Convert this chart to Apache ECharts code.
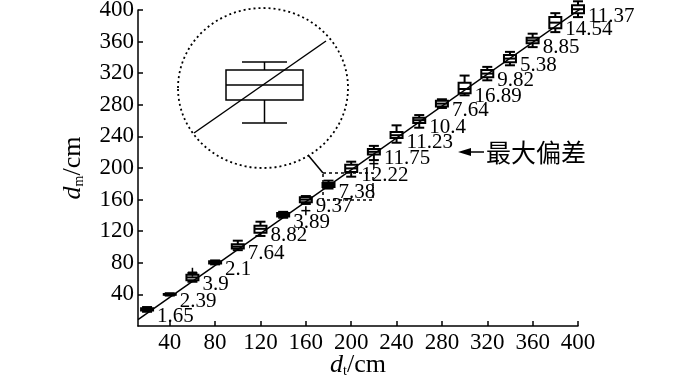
<!DOCTYPE html>
<html>
<head>
<meta charset="utf-8">
<script src="https://cdn.jsdelivr.net/npm/echarts@6/dist/echarts.min.js"></script>
<style>
html, body { margin: 0; background: #fff; }
#chart { width: 700px; height: 380px; }
</style>
</head>
<body>
<div id="chart"></div>
<script>
// measured distance d_t (x) and box statistics of d_m (y)
var dt      = [20, 40, 60, 80, 100, 120, 140, 160, 180, 200, 220, 240, 260, 280, 300, 320, 340, 360, 380, 400];
var boxLow  = [18, 38.5, 56, 78, 96, 114, 137, 154.5, 174, 189, 210, 232, 251, 276, 292, 311, 330, 353, 372, 391];
var boxQ1   = [19.5, 39.5, 58, 79, 98, 118, 138.5, 156.5, 176, 195, 217, 238, 257, 278, 294.5, 315, 334, 358, 377, 396];
var boxMed  = [21, 40, 61.5, 80.5, 100.5, 123, 140.5, 160, 178.5, 199.5, 220.5, 241.5, 260.5, 281.5, 300, 319.5, 338.5, 361.5, 384, 401];
var boxQ3   = [22.5, 40.5, 65, 82, 103.5, 127, 143, 163, 181, 204, 224, 245.5, 263.5, 285, 308, 324, 343, 365, 391, 406];
var boxHigh = [24, 41.5, 67, 83, 108, 132, 144.5, 164.5, 184, 208, 228, 254, 267, 287, 317, 328, 347, 370, 396, 411];
var maxDev  = [1.65, 2.39, 3.9, 2.1, 7.64, 8.82, 3.89, 9.37, 7.38, 12.22, 11.75, 11.23, 10.4, 7.64, 16.89, 9.82, 5.38, 8.85, 14.54, 11.37];

// outliers (+)
var outX = [60, 160, 220];
var outY = [68, 146, 205.5];

// reference line
var fitX = [12, 410.5];
var fitY = [8, 410];

var tickVals = [40, 80, 120, 160, 200, 240, 280, 320, 360, 400];

var boxData = dt.map(function (x, i) {
    return [x, boxLow[i], boxQ1[i], boxMed[i], boxQ3[i], boxHigh[i], maxDev[i]];
});
var outData = outX.map(function (x, i) { return [x, outY[i]]; });
var fitData = fitX.map(function (x, i) { return [x, fitY[i]]; });

var serif = '"Liberation Serif", "DejaVu Serif", serif';
var lineSt = { stroke: '#000', lineWidth: 1.5, fill: 'none' };
var boxSt = { stroke: '#000', lineWidth: 2, fill: 'none' };

function renderBox(params, api) {
    var x = api.value(0);
    var pLo = api.coord([x, api.value(1)]);
    var pQ1 = api.coord([x, api.value(2)]);
    var pMed = api.coord([x, api.value(3)]);
    var pQ3 = api.coord([x, api.value(4)]);
    var pHi = api.coord([x, api.value(5)]);
    var cx = pMed[0], bw = 12, cw = 10;
    return {
        type: 'group',
        children: [
            { type: 'line', shape: { x1: cx, y1: pHi[1], x2: cx, y2: pQ3[1] }, style: boxSt },
            { type: 'line', shape: { x1: cx, y1: pQ1[1], x2: cx, y2: pLo[1] }, style: boxSt },
            { type: 'line', shape: { x1: cx - cw / 2, y1: pHi[1], x2: cx + cw / 2, y2: pHi[1] }, style: boxSt },
            { type: 'line', shape: { x1: cx - cw / 2, y1: pLo[1], x2: cx + cw / 2, y2: pLo[1] }, style: boxSt },
            { type: 'rect', shape: { x: cx - bw / 2, y: pQ3[1], width: bw, height: pQ1[1] - pQ3[1] }, style: boxSt },
            { type: 'line', shape: { x1: cx - bw / 2, y1: pMed[1], x2: cx + bw / 2, y2: pMed[1] }, style: boxSt },
            {
                type: 'text', x: cx + 10, y: pMed[1] + 7,
                style: { text: String(api.value(6)), font: '21px ' + serif, fill: '#000', align: 'left', verticalAlign: 'middle' }
            }
        ]
    };
}

function renderPlus(params, api) {
    var p = api.coord([api.value(0), api.value(1)]);
    var h = 4.5;
    return {
        type: 'group',
        children: [
            { type: 'line', shape: { x1: p[0] - h, y1: p[1], x2: p[0] + h, y2: p[1] }, style: lineSt },
            { type: 'line', shape: { x1: p[0], y1: p[1] - h, x2: p[0], y2: p[1] + h }, style: lineSt }
        ]
    };
}

var nameRich = {
    i: { fontFamily: serif, fontStyle: 'italic', fontSize: 26, color: '#000', lineHeight: 26 },
    s: { fontFamily: serif, fontSize: 14, color: '#000', verticalAlign: 'bottom', lineHeight: 12 },
    n: { fontFamily: serif, fontSize: 26, color: '#000', lineHeight: 26 }
};

var chart = echarts.init(document.getElementById('chart'));

var option = {
    animation: false,
    backgroundColor: '#fff',
    grid: { left: 138, right: 122, top: 10, bottom: 54, outerBoundsMode: 'none' },
    xAxis: {
        type: 'value',
        min: 12,
        max: 400,
        name: '{i|d}{s|t}{n|/cm}',
        nameLocation: 'middle',
        nameGap: 26,
        nameMoveOverlap: false,
        nameTextStyle: { rich: nameRich },
        axisLine: { lineStyle: { color: '#000', width: 1.5 } },
        axisTick: { inside: true, length: 5, customValues: tickVals, lineStyle: { color: '#000', width: 1.5 } },
        axisLabel: { customValues: tickVals, fontFamily: serif, fontSize: 23, color: '#000', margin: 5 },
        splitLine: { show: false }
    },
    yAxis: {
        type: 'value',
        min: 0,
        max: 400,
        interval: 40,
        name: '{i|d}{s|m}{n|/cm}',
        nameLocation: 'middle',
        nameRotate: 90,
        nameGap: 52,
        nameMoveOverlap: false,
        nameTextStyle: { rich: nameRich },
        axisLine: { show: true, lineStyle: { color: '#000', width: 1.5 } },
        axisTick: { show: true, inside: true, length: 5, lineStyle: { color: '#000', width: 1.5 } },
        axisLabel: { showMinLabel: false, fontFamily: serif, fontSize: 23, color: '#000', margin: 4 },
        splitLine: { show: false }
    },
    graphic: [
        // magnified inset of the largest deviation
        { type: 'ellipse', shape: { cx: 263, cy: 88, rx: 85, ry: 80 }, style: { fill: 'none', stroke: '#000', lineWidth: 1.8, lineDash: [2, 3] } },
        { type: 'line', shape: { x1: 194, y1: 133, x2: 326, y2: 41 }, style: lineSt },
        { type: 'rect', shape: { x: 226, y: 70, width: 77, height: 30 }, style: lineSt },
        { type: 'line', shape: { x1: 226, y1: 85, x2: 303, y2: 85 }, style: lineSt },
        { type: 'line', shape: { x1: 264.5, y1: 62, x2: 264.5, y2: 70 }, style: lineSt },
        { type: 'line', shape: { x1: 264.5, y1: 100, x2: 264.5, y2: 123 }, style: lineSt },
        { type: 'line', shape: { x1: 242, y1: 62, x2: 287, y2: 62 }, style: lineSt },
        { type: 'line', shape: { x1: 242, y1: 123, x2: 287, y2: 123 }, style: lineSt },
        { type: 'line', shape: { x1: 308, y1: 155, x2: 323, y2: 173 }, style: lineSt },
        { type: 'rect', shape: { x: 323, y: 173, width: 50, height: 27 }, style: { fill: 'none', stroke: '#000', lineWidth: 1.5, lineDash: [3, 3] } },
        // arrow + note
        { type: 'line', shape: { x1: 466, y1: 152, x2: 484, y2: 152 }, style: lineSt },
        { type: 'polygon', shape: { points: [[458, 152], [471, 148], [471, 156]] }, style: { fill: '#000' } },
        { type: 'text', x: 486, y: 152, style: { text: '最大偏差', font: '25px "Noto Sans CJK SC"', fill: '#000', verticalAlign: 'middle' } }
    ],
    series: [
        {
            type: 'custom',
            renderItem: renderBox,
            data: boxData,
            encode: { x: 0, y: [1, 5] },
            clip: false,
            z: 3
        },
        {
            type: 'custom',
            renderItem: renderPlus,
            data: outData,
            clip: false,
            z: 3
        },
        {
            type: 'line',
            data: fitData,
            showSymbol: false,
            symbol: 'none',
            clip: false,
            lineStyle: { color: '#000', width: 1.5 },
            z: 4
        }
    ]
};

chart.setOption(option);
</script>
</body>
</html>
